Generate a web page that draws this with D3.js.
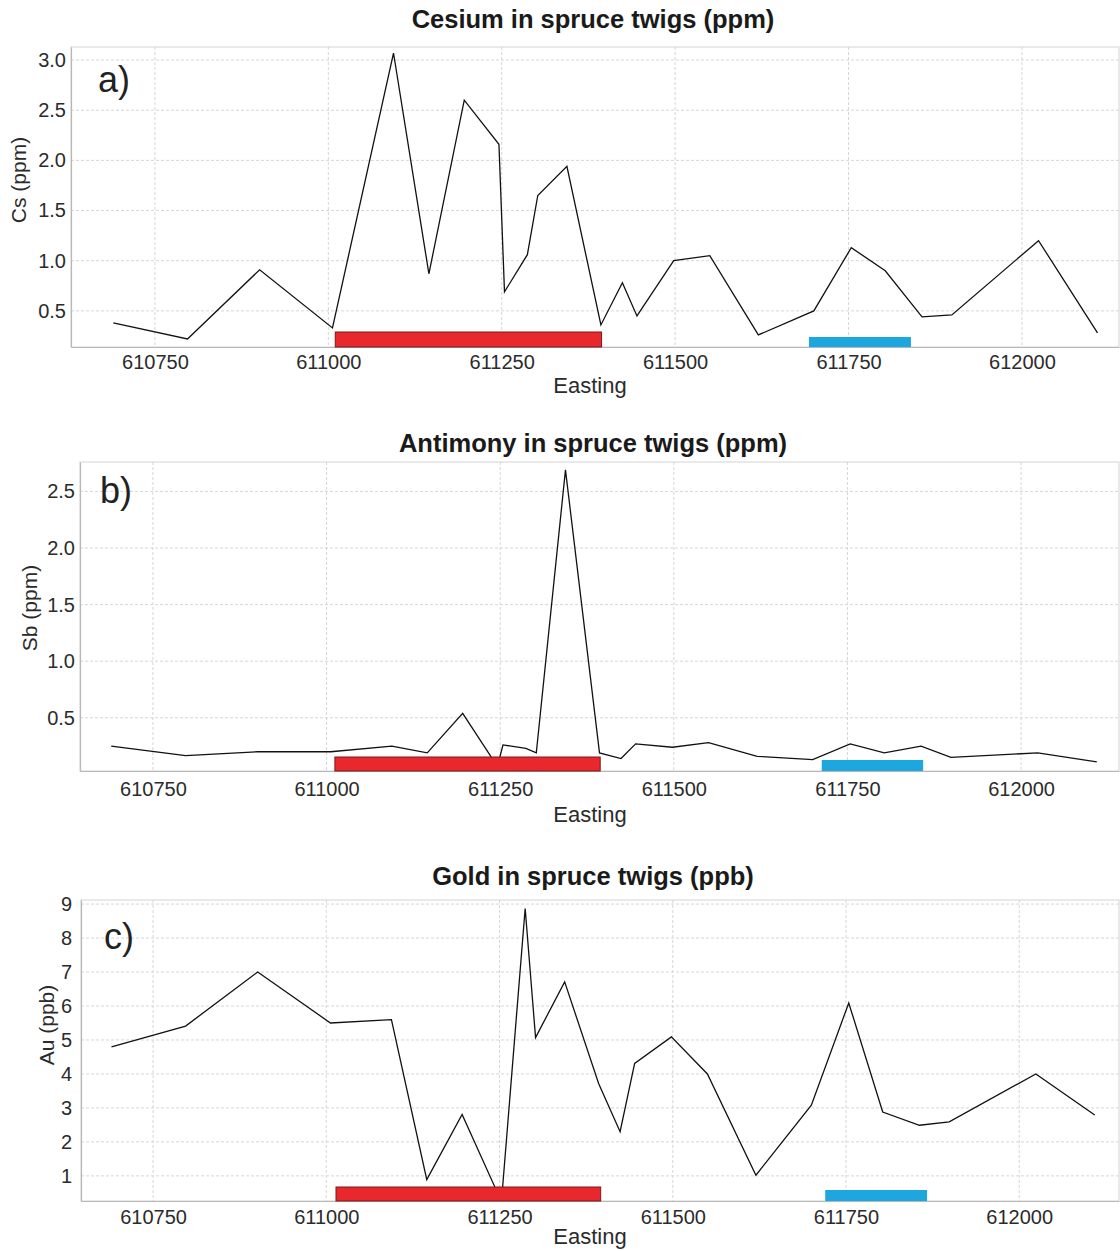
<!DOCTYPE html>
<html><head><meta charset="utf-8">
<script src="https://cdn.jsdelivr.net/npm/d3@7"></script>
<style>
body{margin:0;background:#fff}
svg{display:block}
text{font-family:"Liberation Sans",Arial,Helvetica,sans-serif}
</style>
</head><body>
<svg id="chart" width="1120" height="1251"></svg>
<script>
// ---- data ----
const easting = [610690, 610797, 610901, 611006, 611094, 611145, 611196, 611246, 611254, 611287, 611302, 611344, 611393, 611424, 611445, 611498, 611550, 611620, 611700, 611754, 611803, 611856, 611899, 612024, 612109];
const cesium   = [0.38, 0.22, 0.91, 0.33, 3.07, 0.87, 2.60, 2.16, 0.69, 1.06, 1.65, 1.94, 0.36, 0.78, 0.45, 1.00, 1.05, 0.26, 0.50, 1.13, 0.90, 0.44, 0.46, 1.20, 0.28];
const antimony = [0.25, 0.165, 0.20, 0.20, 0.25, 0.19, 0.54, 0.07, 0.26, 0.23, 0.19, 2.69, 0.19, 0.14, 0.27, 0.24, 0.28, 0.16, 0.13, 0.27, 0.19, 0.25, 0.15, 0.19, 0.11];
const gold     = [4.80, 5.41, 7.00, 5.50, 5.60, 0.89, 2.81, 0.55, 0.55, 8.87, 5.07, 6.71, 3.72, 2.30, 4.31, 5.09, 4.00, 1.02, 3.08, 6.09, 2.88, 2.49, 2.59, 4.00, 2.79];

const xTickValues = [610750, 611000, 611250, 611500, 611750, 612000];
const csTicks = [0.5, 1.0, 1.5, 2.0, 2.5, 3.0];
const sbTicks = [0.5, 1.0, 1.5, 2.0, 2.5];
const auTicks = [1, 2, 3, 4, 5, 6, 7, 8, 9];

const titles = ["Cesium in spruce twigs (ppm)", "Antimony in spruce twigs (ppm)", "Gold in spruce twigs (ppb)"];
const yLabels = ["Cs (ppm)", "Sb (ppm)", "Au (ppb)"];
const panelTags = ["a)", "b)", "c)"];
const xLabel = "Easting";

// anomaly zones (Easting ranges)
const redZones  = [[611010, 611394], [611012, 611394], [611014, 611396]];
const blueZones = [[611693, 611840], [611713, 611859], [611720, 611867]];

// ---- layout (positions / styles) ----
const layouts = [
  {values: cesium, ticks: csTicks, fmt: ".1f", left: 71, right: 1119, top: 47, bottom: 347,
   xDom: [610629, 612140], yDom: [0.14, 3.13], titleY: 28, xPad: 8, yPad: 5,
   eastY: 393, ylX: 19, ylY: 180, tagX: 98, tagY: 92, redH: 15, blueH: 10},
  {values: antimony, ticks: sbTicks, fmt: ".1f", left: 80, right: 1119, top: 462, bottom: 771,
   xDom: [610645, 612141], yDom: [0.03, 2.76], titleY: 452, xPad: 11, yPad: 5,
   eastY: 822, ylX: 30, ylY: 608, tagX: 100, tagY: 503, redH: 14, blueH: 11},
  {values: gold, ticks: auTicks, fmt: "d", left: 81, right: 1119, top: 900, bottom: 1201,
   xDom: [610646, 612144], yDom: [0.26, 9.12], titleY: 885, xPad: 9, yPad: 9,
   eastY: 1244, ylX: 47, ylY: 1025, tagX: 104, tagY: 949, redH: 14, blueH: 11}
];

const svg = d3.select("#chart");

layouts.forEach((L, i) => {
  const x = d3.scaleLinear().domain(L.xDom).range([L.left, L.right]);
  const y = d3.scaleLinear().domain(L.yDom).range([L.bottom, L.top]);
  const g = svg.append("g");

  // gridlines
  g.append("g").selectAll("line").data(xTickValues).join("line")
    .attr("x1", d => x(d)).attr("x2", d => x(d))
    .attr("y1", L.top).attr("y2", L.bottom)
    .attr("stroke", "#d6d6d6").attr("stroke-width", 1).attr("stroke-dasharray", "3,2");
  g.append("g").selectAll("line").data(L.ticks).join("line")
    .attr("x1", L.left).attr("x2", L.right)
    .attr("y1", d => y(d)).attr("y2", d => y(d))
    .attr("stroke", "#d6d6d6").attr("stroke-width", 1).attr("stroke-dasharray", "3,2");

  // frame
  g.append("rect").attr("x", L.left).attr("y", L.top)
    .attr("width", L.right - L.left).attr("height", L.bottom - L.top)
    .attr("fill", "none").attr("stroke", "#d4d4d4").attr("stroke-width", 1);

  // axes
  const xa = g.append("g").attr("transform", `translate(0,${L.bottom})`)
    .call(d3.axisBottom(x).tickValues(xTickValues).tickFormat(d3.format("d")).tickSize(0).tickPadding(L.xPad));
  xa.select(".domain").attr("stroke", "#b8b8b8").attr("stroke-width", 1.2);
  xa.selectAll("text").attr("font-size", 20).attr("fill", "#2b2b2b")
    .style("font-family", '"Liberation Sans", Arial, sans-serif');

  const ya = g.append("g").attr("transform", `translate(${L.left},0)`)
    .call(d3.axisLeft(y).tickValues(L.ticks).tickFormat(d3.format(L.fmt)).tickSize(0).tickPadding(L.yPad));
  ya.select(".domain").attr("stroke", "#b8b8b8").attr("stroke-width", 1.2);
  ya.selectAll("text").attr("font-size", 20).attr("fill", "#2b2b2b")
    .style("font-family", '"Liberation Sans", Arial, sans-serif');

  // data line
  const pts = easting.map((e, k) => [e, L.values[k]]);
  g.append("path").datum(pts)
    .attr("fill", "none").attr("stroke", "#111").attr("stroke-width", 1.3)
    .attr("stroke-linejoin", "miter")
    .attr("d", d3.line().x(d => x(d[0])).y(d => y(d[1])));

  // zones
  const rz = redZones[i], bz = blueZones[i];
  g.append("rect").attr("x", x(rz[0])).attr("y", L.bottom - L.redH)
    .attr("width", x(rz[1]) - x(rz[0])).attr("height", L.redH)
    .attr("fill", "#e8282c").attr("stroke", "#7a1a1a").attr("stroke-width", 1);
  g.append("rect").attr("x", x(bz[0])).attr("y", L.bottom - L.blueH)
    .attr("width", x(bz[1]) - x(bz[0])).attr("height", L.blueH)
    .attr("fill", "#1ea6df");

  // title
  svg.append("text").attr("x", 593).attr("y", L.titleY).attr("text-anchor", "middle")
    .attr("font-size", 25.5).attr("font-weight", "bold").attr("fill", "#1a1a1a").text(titles[i]);

  // x label
  svg.append("text").attr("x", 590).attr("y", L.eastY).attr("text-anchor", "middle")
    .attr("font-size", 22).attr("fill", "#2b2b2b").text(xLabel);

  // y label
  svg.append("text").attr("transform", `translate(${L.ylX + 7},${L.ylY}) rotate(-90)`)
    .attr("text-anchor", "middle").attr("font-size", 21).attr("fill", "#2b2b2b").text(yLabels[i]);

  // panel tag
  svg.append("text").attr("x", L.tagX).attr("y", L.tagY)
    .attr("font-size", 36).attr("fill", "#222").text(panelTags[i]);
});
</script>
</body></html>
